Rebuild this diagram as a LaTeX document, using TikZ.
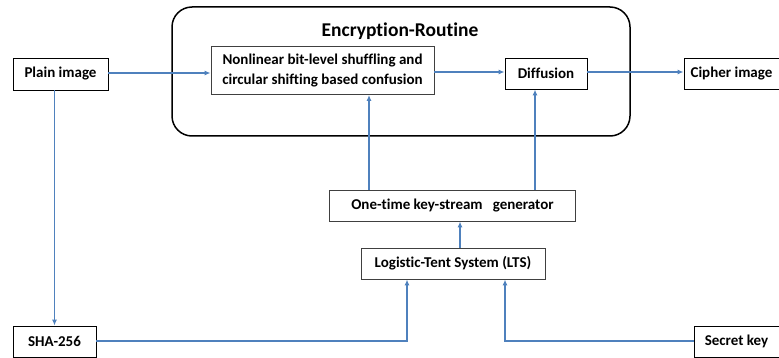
\documentclass[tikz,border=0pt]{standalone}
\usepackage{fontspec}
\setmainfont[Ligatures={NoCommon}]{Carlito}
\usetikzlibrary{arrows.meta}
\definecolor{arrowblue}{HTML}{4F81BD}
\definecolor{boxgray}{HTML}{404040}
\tikzset{
  box/.style={draw=black, line width=0.9pt, rectangle, inner sep=0pt, align=center,
    font=\fontsize{15}{20}\selectfont\bfseries, text=black},
  graybox/.style={box, draw=boxgray},
  flow/.style={draw=arrowblue, line width=1.2pt, -{Latex[length=6pt,width=5pt]}}
}
\begin{document}
\begin{tikzpicture}[x=1pt,y=-1pt]
\useasboundingbox (0,0) rectangle (779,358);
\node[draw=black, line width=1.5pt, rounded corners=20pt, minimum width=458pt, minimum height=129pt, inner sep=0pt] (routine) at (401,71.5) {};
\node[font=\fontsize{19.5}{22}\selectfont\bfseries] (title) at (400,31) {Encryption-Routine};
\node[box, minimum width=95pt, minimum height=32pt] (plain) at (60.5,74) {Plain image};
\node[box, draw=boxgray, minimum width=223pt, minimum height=48pt] (conf) at (322.5,70.5) {Nonlinear bit-level shuffling and\\circular shifting based confusion};
\node[box, minimum width=82pt, minimum height=31pt] (diff) at (546,73.5) {Diffusion};
\node[box, minimum width=95pt, minimum height=31pt] (cipher) at (731.5,73.5) {Cipher image};
\node[graybox, minimum width=246pt, minimum height=31pt] (otk) at (452.5,205.5) {One-time key-stream~~ generator};
\node[graybox, minimum width=184pt, minimum height=31pt] (lts) at (453,263.5) {Logistic-Tent System (LTS)};
\node[box, minimum width=83pt, minimum height=31pt] (sha) at (54.5,341.5) {SHA-256};
\node[box, minimum width=85pt, minimum height=31pt] (key) at (736.5,341.5) {Secret key};

\draw[flow] ([yshift=1pt]plain.east) -- ([yshift=1pt]plain.east -| conf.west);
\draw[flow] ([yshift=1.5pt]diff.west -| conf.east) -- ([yshift=1.5pt]diff.west);
\draw[flow] ([yshift=1.5pt]diff.east) -- ([yshift=1.5pt]cipher.west);
\draw[flow] (sha.north |- plain.south) -- (sha.north);
\draw[flow] ([xshift=-83.5pt]otk.north) -- ([xshift=-83.5pt]otk.north |- conf.south);
\draw[flow] ([xshift=-11pt]otk.north -| diff.south) -- ([xshift=-11pt]diff.south);
\draw[flow] ([xshift=7pt]lts.north) -- ([xshift=7pt]lts.north |- otk.south);
\draw[flow] ([yshift=0.5pt]sha.east) -| ([xshift=-46pt]lts.south);
\draw[flow] ([yshift=0.5pt]key.west) -| ([xshift=52pt]lts.south);
\end{tikzpicture}
\end{document}
